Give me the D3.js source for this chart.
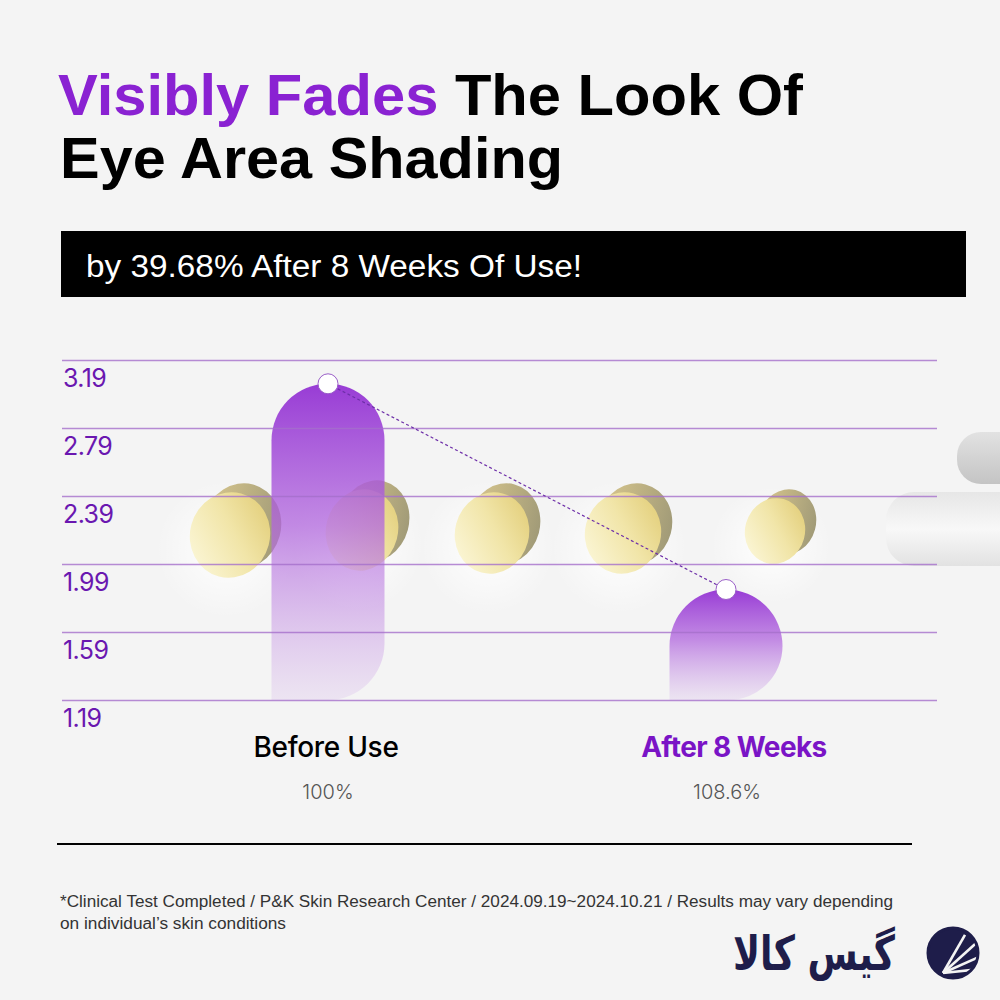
<!DOCTYPE html>
<html>
<head>
<meta charset="utf-8">
<script src="https://cdn.jsdelivr.net/npm/d3@7"></script>
<style>
  html, body { margin: 0; padding: 0; background: #f4f4f4; }
  svg { display: block; }
</style>
</head>
<body>
<div id="chart"></div>
<script>
// Chart data
const categories = ['Before Use', 'After 8 Weeks'];
const values = [3.05, 1.84];
const percentLabels = ['100%', '108.6%'];
const yTicks = [3.19, 2.79, 2.39, 1.99, 1.59, 1.19];

const W = 1000, H = 1000;

const svg = d3.select('#chart')
    .append('svg')
    .attr('width', W)
    .attr('height', H);

svg.append('rect').attr('width', W).attr('height', H).attr('fill', '#f4f4f4');

const defs = svg.append('defs');

// bar gradient
const grad = defs.append('linearGradient')
    .attr('id', 'barGrad')
    .attr('x1', 0).attr('y1', 0).attr('x2', 0).attr('y2', 1);
grad.append('stop').attr('offset', '0%').attr('stop-color', '#9536d4').attr('stop-opacity', 0.97);
grad.append('stop').attr('offset', '45%').attr('stop-color', '#b166de').attr('stop-opacity', 0.75);
grad.append('stop').attr('offset', '100%').attr('stop-color', '#c99be6').attr('stop-opacity', 0.18);

// capsule gradients (background decoration)
const capGrad = defs.append('linearGradient').attr('id', 'capGrad')
    .attr('x1', 0.1).attr('y1', 0.9).attr('x2', 0.9).attr('y2', 0.1);
capGrad.append('stop').attr('offset', '0%').attr('stop-color', '#fbf6d6');
capGrad.append('stop').attr('offset', '55%').attr('stop-color', '#f1e5a8');
capGrad.append('stop').attr('offset', '100%').attr('stop-color', '#e3cf7c');
const shGrad = defs.append('linearGradient').attr('id', 'shGrad')
    .attr('x1', 0).attr('y1', 0.5).attr('x2', 1).attr('y2', 0.5);
shGrad.append('stop').attr('offset', '0%').attr('stop-color', '#cdb872');
shGrad.append('stop').attr('offset', '100%').attr('stop-color', '#8c8458');
const glow = defs.append('radialGradient').attr('id', 'glow');
glow.append('stop').attr('offset', '0%').attr('stop-color', '#ffffff').attr('stop-opacity', 1);
glow.append('stop').attr('offset', '100%').attr('stop-color', '#ffffff').attr('stop-opacity', 0);
const fingerGrad = defs.append('linearGradient').attr('id', 'fingerGrad')
    .attr('x1', 0).attr('y1', 0).attr('x2', 0).attr('y2', 1);
fingerGrad.append('stop').attr('offset', '0%').attr('stop-color', '#e6e6e6');
fingerGrad.append('stop').attr('offset', '50%').attr('stop-color', '#f8f8f8');
fingerGrad.append('stop').attr('offset', '100%').attr('stop-color', '#e2e2e2');
const knuckleGrad = defs.append('linearGradient').attr('id', 'knuckleGrad')
    .attr('x1', 0).attr('y1', 0).attr('x2', 0).attr('y2', 1);
knuckleGrad.append('stop').attr('offset', '0%').attr('stop-color', '#e2e2e2');
knuckleGrad.append('stop').attr('offset', '100%').attr('stop-color', '#c4c4c4');

// Title
const title = svg.append('text')
    .attr('x', 58).attr('y', 115)
    .attr('font-family', 'Liberation Sans, Arial, sans-serif')
    .attr('font-weight', 'bold')
    .attr('font-size', 57)
    .attr('textLength', 745)
    .attr('lengthAdjust', 'spacingAndGlyphs');
title.append('tspan').attr('fill', '#8a22d2').text('Visibly Fades');
title.append('tspan').attr('fill', '#000').text(' The Look Of');

svg.append('text')
    .attr('x', 60).attr('y', 178)
    .attr('font-family', 'Liberation Sans, Arial, sans-serif')
    .attr('font-weight', 'bold')
    .attr('font-size', 57)
    .attr('textLength', 503)
    .attr('lengthAdjust', 'spacingAndGlyphs')
    .attr('fill', '#000')
    .text('Eye Area Shading');

// Banner
svg.append('rect')
    .attr('x', 61).attr('y', 231)
    .attr('width', 905).attr('height', 66)
    .attr('fill', '#000');
svg.append('text')
    .attr('x', 86).attr('y', 277)
    .attr('font-family', 'Liberation Sans, Arial, sans-serif')
    .attr('font-size', 31)
    .attr('fill', '#fff')
    .attr('textLength', 496)
    .attr('lengthAdjust', 'spacingAndGlyphs')
    .text('by 39.68% After 8 Weeks Of Use!');

// Background decoration: capsules and finger
const capsules = [
    { cx: 230, cy: 535, rx: 40, ry: 43 },
    { cx: 362, cy: 530, rx: 36, ry: 41 },
    { cx: 492, cy: 533, rx: 37, ry: 41 },
    { cx: 623, cy: 533, rx: 38, ry: 41 },
    { cx: 775, cy: 531, rx: 30, ry: 33 }
];
const deco = svg.append('g');
capsules.forEach(c => {
    deco.append('ellipse')
        .attr('cx', c.cx - 4).attr('cy', c.cy + 14)
        .attr('rx', c.rx + 30).attr('ry', c.ry + 26)
        .attr('fill', 'url(#glow)');
    deco.append('ellipse')
        .attr('cx', c.cx + 12).attr('cy', c.cy - 9)
        .attr('rx', c.rx - 1).attr('ry', c.ry)
        .attr('transform', `rotate(15,${c.cx + 12},${c.cy - 9})`)
        .attr('fill', 'url(#shGrad)')
        .attr('opacity', 0.8);
    deco.append('ellipse')
        .attr('cx', c.cx).attr('cy', c.cy)
        .attr('rx', c.rx).attr('ry', c.ry)
        .attr('transform', `rotate(15,${c.cx},${c.cy})`)
        .attr('fill', 'url(#capGrad)');
});
deco.append('rect')
    .attr('x', 957).attr('y', 432).attr('width', 80).attr('height', 52)
    .attr('rx', 24)
    .attr('fill', 'url(#knuckleGrad)');
deco.append('rect')
    .attr('x', 886).attr('y', 492).attr('width', 150).attr('height', 74)
    .attr('rx', 28)
    .attr('fill', 'url(#fingerGrad)');

// Scales
const y = d3.scaleLinear()
    .domain([d3.min(yTicks), d3.max(yTicks)])
    .range([700, 360]);
const x = d3.scalePoint()
    .domain(categories)
    .range([328, 726]);
const barW = 113;

// Bars (rounded top, rounded bottom-right)
function barPath(cx, v) {
    const x0 = cx - barW / 2, x1 = cx + barW / 2;
    const yT = y(v), yB = y(d3.min(yTicks));
    const r = barW / 2;
    const r2 = Math.min(r, yB - yT - r);
    return `M${x0},${yB} L${x0},${yT + r} A${r},${r} 0 0 1 ${x1},${yT + r}` +
        ` L${x1},${yB - r2} A${r2},${r2} 0 0 1 ${x1 - r2},${yB} Z`;
}

svg.append('g')
    .selectAll('path')
    .data(categories)
    .enter()
    .append('path')
    .attr('d', (d, i) => barPath(x(d), values[i]))
    .attr('fill', 'url(#barGrad)');

// Y axis with gridlines
const yAxis = d3.axisRight(y)
    .tickValues(yTicks)
    .tickSize(875)
    .tickFormat(d3.format('.2f'));

const gy = svg.append('g')
    .attr('transform', 'translate(62,0)')
    .call(yAxis);
gy.select('.domain').remove();
gy.selectAll('.tick line')
    .attr('stroke', '#a56fca')
    .attr('stroke-opacity', 0.8)
    .attr('stroke-width', 1.4);
gy.selectAll('.tick text')
    .attr('x', 1)
    .attr('y', 26)
    .attr('dy', null)
    .attr('text-anchor', 'start')
    .attr('fill', '#6a17b0')
    .attr('font-family', 'Inter, sans-serif')
    .attr('font-size', 25)
    .attr('letter-spacing', -0.6);

// Dashed connector
svg.append('line')
    .attr('x1', x(categories[0])).attr('y1', y(values[0]))
    .attr('x2', x(categories[1])).attr('y2', y(values[1]))
    .attr('stroke', '#6d2ea8')
    .attr('stroke-width', 1.2)
    .attr('stroke-dasharray', '3,2.5');

// Dots
svg.append('g')
    .selectAll('circle')
    .data(categories)
    .enter()
    .append('circle')
    .attr('cx', d => x(d))
    .attr('cy', (d, i) => y(values[i]))
    .attr('r', 10)
    .attr('fill', '#fff')
    .attr('stroke', '#9a5fc8')
    .attr('stroke-width', 1);

// Category labels
svg.append('g')
    .selectAll('text')
    .data(categories)
    .enter()
    .append('text')
    .attr('x', (d, i) => x(d) - 2 + (i === 1 ? 10 : 0))
    .attr('y', 757)
    .attr('text-anchor', 'middle')
    .attr('font-family', 'Inter, sans-serif')
    .attr('font-weight', (d, i) => i === 1 ? 700 : 500)
    .attr('font-size', 28)
    .attr('letter-spacing', (d, i) => i === 1 ? -0.6 : -0.3)
    .attr('fill', (d, i) => i === 1 ? '#7a14c6' : '#000')
    .text(d => d);

svg.append('g')
    .selectAll('text')
    .data(percentLabels)
    .enter()
    .append('text')
    .attr('x', (d, i) => x(categories[i]) + (i === 1 ? 1 : 0))
    .attr('y', 799)
    .attr('text-anchor', 'middle')
    .attr('font-family', 'Inter, sans-serif')
    .attr('font-weight', 300)
    .attr('font-size', 20)
    .attr('fill', '#555')
    .text(d => d);

// Separator line
svg.append('line')
    .attr('x1', 57).attr('x2', 912)
    .attr('y1', 844).attr('y2', 844)
    .attr('stroke', '#000')
    .attr('stroke-width', 2.2);

// Footnote
svg.append('text')
    .attr('x', 60).attr('y', 907)
    .attr('font-family', 'Liberation Sans, Arial, sans-serif')
    .attr('font-size', 16)
    .attr('fill', '#333')
    .attr('textLength', 833)
    .attr('lengthAdjust', 'spacingAndGlyphs')
    .text('*Clinical Test Completed / P&K Skin Research Center / 2024.09.19~2024.10.21 / Results may vary depending');
svg.append('text')
    .attr('x', 60).attr('y', 929)
    .attr('font-family', 'Liberation Sans, Arial, sans-serif')
    .attr('font-size', 16)
    .attr('fill', '#333')
    .attr('textLength', 226)
    .attr('lengthAdjust', 'spacingAndGlyphs')
    .text('on individual’s skin conditions');

// Logo
svg.append('text')
    .attr('x', 733).attr('y', 970)
    .attr('font-family', 'DejaVu Sans, sans-serif')
    .attr('font-weight', 'bold')
    .attr('font-size', 48)
    .attr('fill', '#1e1d4a')
    .attr('textLength', 162)
    .attr('lengthAdjust', 'spacingAndGlyphs')
    .text('گیس کالا');
const logo = svg.append('g').attr('transform', 'translate(953,953)');
logo.append('circle').attr('r', 25).attr('fill', '#1e1d4a');
[-60, -42, -24, -6].forEach(a => {
    const rad = a * Math.PI / 180;
    logo.append('line')
        .attr('x1', -10).attr('y1', 20)
        .attr('x2', -10 + 44 * Math.cos(rad)).attr('y2', 20 + 44 * Math.sin(rad))
        .attr('stroke', '#f4f4f4')
        .attr('stroke-width', 2.6);
});
logo.append('circle').attr('r', 25).attr('fill', 'none')
    .attr('stroke', '#1e1d4a').attr('stroke-width', 3);
</script>
</body>
</html>
